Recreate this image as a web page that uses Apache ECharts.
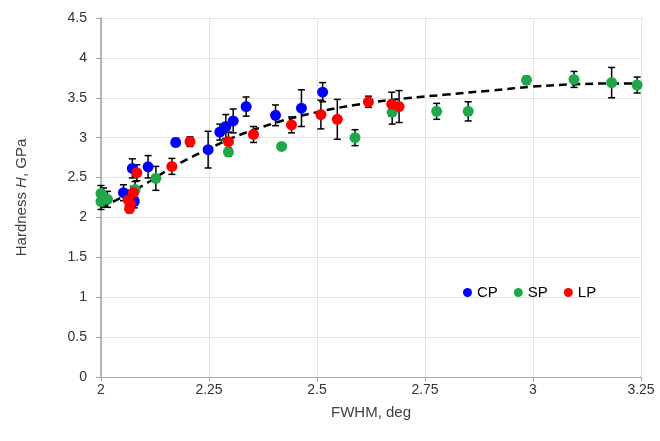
<!DOCTYPE html>
<html>
<head>
<meta charset="utf-8">
<script src="https://cdn.jsdelivr.net/npm/echarts@6/dist/echarts.min.js"></script>
<style>
  html, body { margin: 0; padding: 0; background: #fff; }
  #chart { width: 660px; height: 441px; }
</style>
</head>
<body>
<div id="chart"></div>
<script>
// Hardness vs. FWHM for three sample groups (with standard-deviation error bars)
const cpFwhm = [2.052, 2.077, 2.068, 2.0725, 2.109, 2.173, 2.248, 2.275, 2.289, 2.306, 2.336, 2.404, 2.464, 2.513];
const cpH    = [2.31, 2.20, 2.26, 2.615, 2.635, 2.94, 2.85, 3.07, 3.14, 3.21, 3.39, 3.28, 3.37, 3.57];
const cpErr  = [0.10, 0.08, 0.08, 0.12, 0.14, 0.05, 0.23, 0.10, 0.15, 0.15, 0.12, 0.13, 0.23, 0.12];

const spFwhm = [2.0, 2.0, 2.006, 2.015, 2.079, 2.127, 2.295, 2.418, 2.588, 2.674, 2.777, 2.850, 2.985, 3.095, 3.182, 3.241];
const spH    = [2.30, 2.20, 2.25, 2.227, 2.35, 2.49, 2.82, 2.89, 3.00, 3.32, 3.33, 3.33, 3.72, 3.73, 3.69, 3.66];
const spErr  = [0.10, 0.10, 0.12, 0.10, 0.10, 0.15, 0.05, 0.04, 0.10, 0.15, 0.10, 0.12, 0.05, 0.10, 0.19, 0.10];

const lpFwhm = [2.063, 2.066, 2.068, 2.075, 2.083, 2.164, 2.206, 2.295, 2.353, 2.441, 2.509, 2.547, 2.619, 2.673, 2.690];
const lpH    = [2.22, 2.11, 2.17, 2.31, 2.56, 2.64, 2.95, 2.95, 3.04, 3.16, 3.29, 3.23, 3.45, 3.42, 3.39];
const lpErr  = [0.06, 0.05, 0.05, 0.08, 0.10, 0.10, 0.06, 0.12, 0.10, 0.10, 0.18, 0.25, 0.07, 0.15, 0.20];

const trendFwhm = [2.0, 2.04, 2.1, 2.15, 2.2, 2.25, 2.3, 2.4, 2.5, 2.6, 2.7, 2.8, 2.9, 3.0, 3.1, 3.2, 3.25];
const trendH    = [2.13, 2.23, 2.41, 2.58, 2.73, 2.86, 2.99, 3.18, 3.32, 3.42, 3.49, 3.54, 3.59, 3.64, 3.67, 3.68, 3.68];

const xTicks = { min: 2, max: 3.25, step: 0.25 };
const yTicks = { min: 0, max: 4.5, step: 0.5 };

const COLORS = { CP: '#0000ff', SP: '#1ea84a', LP: '#ff0000' };
const FONT = '"Liberation Sans", Arial, sans-serif';

function zip(a, b, c) {
  return a.map((v, i) => c ? [v, b[i], c[i]] : [v, b[i]]);
}

function errorBarSeries(xs, ys, es) {
  return {
    type: 'custom',
    silent: true,
    data: zip(xs, ys, es),
    encode: { x: 0, y: 1 },
    renderItem: function (params, api) {
      const x = api.value(0), y = api.value(1), e = api.value(2);
      const top = api.coord([x, y + e]);
      const bot = api.coord([x, y - e]);
      const cap = 3.5;
      const style = { stroke: '#000', lineWidth: 1.5 };
      return {
        type: 'group',
        children: [
          { type: 'line', shape: { x1: top[0], y1: top[1], x2: bot[0], y2: bot[1] }, style: style },
          { type: 'line', shape: { x1: top[0] - cap, y1: top[1], x2: top[0] + cap, y2: top[1] }, style: style },
          { type: 'line', shape: { x1: bot[0] - cap, y1: bot[1], x2: bot[0] + cap, y2: bot[1] }, style: style }
        ]
      };
    }
  };
}

function pointSeries(name, xs, ys) {
  return {
    name: name,
    type: 'scatter',
    data: zip(xs, ys),
    symbol: 'circle',
    symbolSize: 11,
    itemStyle: { color: COLORS[name], opacity: 1 }
  };
}

const chart = echarts.init(document.getElementById('chart'), null, { renderer: 'canvas' });

chart.setOption({
  animation: false,
  backgroundColor: '#ffffff',
  grid: { left: 101, right: 19, top: 18, bottom: 64 },
  legend: {
    data: ['CP', 'SP', 'LP'],
    left: 458,
    top: 280,
    icon: 'circle',
    itemWidth: 9,
    itemHeight: 9,
    itemGap: 16,
    textStyle: { fontFamily: FONT, fontSize: 15, color: '#000' }
  },
  xAxis: {
    type: 'value',
    min: xTicks.min,
    max: xTicks.max,
    interval: xTicks.step,
    name: 'FWHM, deg',
    nameLocation: 'middle',
    nameGap: 28,
    nameTextStyle: { fontFamily: FONT, fontSize: 15, color: '#404040' },
    axisLine: { lineStyle: { color: '#a6a6a6', width: 1 } },
    axisTick: { show: true, inside: false, length: 4, lineStyle: { color: '#a6a6a6' } },
    axisLabel: { fontFamily: FONT, fontSize: 14, color: '#333333', margin: 6 },
    splitLine: { show: true, lineStyle: { color: '#e3e3e3', width: 1 } }
  },
  yAxis: {
    type: 'value',
    min: yTicks.min,
    max: yTicks.max,
    interval: yTicks.step,
    name: '{a|Hardness }{i|H}{a|, GPa}',
    nameLocation: 'middle',
    nameGap: 72,
    nameTextStyle: {
      rich: {
        a: { fontFamily: FONT, fontSize: 15, color: '#404040' },
        i: { fontFamily: FONT, fontSize: 15, color: '#404040', fontStyle: 'italic' }
      }
    },
    axisLine: { show: true, lineStyle: { color: '#a0a0a0', width: 1.5 } },
    axisTick: { show: true, inside: false, length: 5, lineStyle: { color: '#a6a6a6' } },
    axisLabel: { fontFamily: FONT, fontSize: 14, color: '#333333', margin: 14 },
    splitLine: { show: true, lineStyle: { color: '#e3e3e3', width: 1 } }
  },
  series: [
    {
      type: 'line',
      data: zip(trendFwhm, trendH),
      smooth: 0.4,
      showSymbol: false,
      silent: true,
      lineStyle: { color: '#000', width: 2.5, type: [8, 5] },
      z: 1
    },
    errorBarSeries(cpFwhm, cpH, cpErr),
    pointSeries('CP', cpFwhm, cpH),
    errorBarSeries(spFwhm, spH, spErr),
    pointSeries('SP', spFwhm, spH),
    errorBarSeries(lpFwhm, lpH, lpErr),
    pointSeries('LP', lpFwhm, lpH)
  ]
});
</script>
</body>
</html>
